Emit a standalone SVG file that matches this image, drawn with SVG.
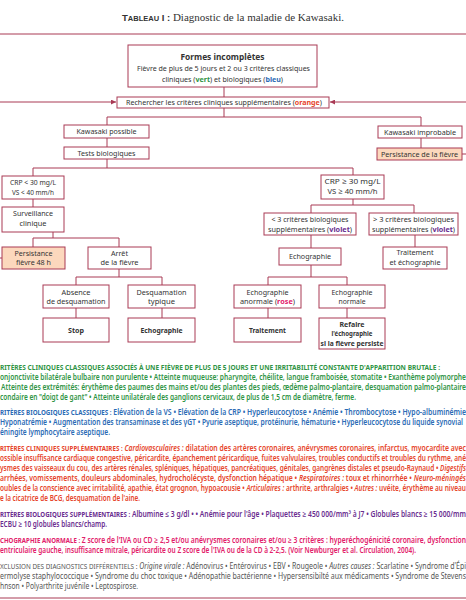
<svg xmlns="http://www.w3.org/2000/svg" width="466" height="600" viewBox="0 0 466 600">
<style>
.bx{fill:#fff;stroke:#a93a55;stroke-width:1}
.pk{fill:#fcd8bd}
.c{fill:none;stroke:#a93a55;stroke-width:1}
.t{font-family:"Noto Sans","Open Sans","Liberation Sans",Arial,sans-serif;font-size:7.8px;fill:#333;text-anchor:middle}
.b{font-weight:bold}
.l{font-family:"Noto Sans","Open Sans","Liberation Sans",Arial,sans-serif;font-size:8.4px;font-weight:600}
.h{font-weight:bold;font-size:7.6px}
.i{font-style:italic}
.g{fill:#2f9445}.bl{fill:#2b6bb5}.r{fill:#e6452b}.v{fill:#6a2d8f}.p{fill:#e2206a}.gr{fill:#555;font-weight:normal}
</style>
<defs>
<marker id="ah" viewBox="0 0 6 6" refX="6" refY="3" markerWidth="5" markerHeight="5" orient="auto" markerUnits="userSpaceOnUse"><path d="M0,0 L6,3 L0,6 z" fill="#a93a55"/></marker>
</defs>

<text x="233" y="21" text-anchor="middle" style="font-family:'Liberation Serif',serif;font-size:11px;fill:#333"><tspan style="font-family:'Liberation Sans',sans-serif;font-weight:bold;font-size:9.5px">T</tspan><tspan style="font-family:'Liberation Sans',sans-serif;font-weight:bold;font-size:7.5px">ABLEAU</tspan><tspan style="font-family:'Liberation Sans',sans-serif;font-weight:bold;font-size:9.5px"> I :</tspan> Diagnostic de la maladie de Kawasaki.</text>
<line x1="0" y1="34" x2="466" y2="34" class="c"/>
<line x1="0" y1="598" x2="466" y2="598" class="c"/>

<g id="connectors">
<path class="c" d="M224,87 V97"/>
<path class="c" d="M224,108 V117"/>
<path class="c" d="M107,125 V117 H421 V126"/>
<path class="c" d="M107,138 V147"/>
<path class="c" d="M421,138 V148"/>
<path class="c" d="M107,159 V168"/>
<path class="c" d="M33,176 V168 H353 V175"/>
<path class="c" d="M33,199 V207"/>
<path class="c" d="M53,232 V238"/>
<path class="c" d="M33,247 V238 H119 V247"/>
<path class="c" d="M119,269 V277"/>
<path class="c" d="M76,285 V277 H162 V285"/>
<path class="c" d="M76,308 V318"/>
<path class="c" d="M162,308 V318"/>
<path class="c" d="M353,199 V205"/>
<path class="c" d="M311,213 V205 H414 V213"/>
<path class="c" d="M311,235 V248"/>
<path class="c" d="M415,235 V247"/>
<path class="c" d="M311,265 V277"/>
<path class="c" d="M268,285 V277 H347 V285"/>
<path class="c" d="M268,308 V318"/>
<path class="c" d="M347,308 V318"/>
<path class="c" d="M2,258 H-4 V102 H116" marker-end="url(#ah)"/>
<path class="c" d="M462,154 H470 V102 H330" marker-end="url(#ah)"/>
</g>

<g id="n-formes">
<rect class="bx" x="128" y="45" width="189" height="42"/>
<text class="t b" x="222.5" y="60" style="font-size:8.6px" textLength="84" lengthAdjust="spacingAndGlyphs">Formes incomplètes</text>
<text class="t" x="223.5" y="71" textLength="173" lengthAdjust="spacingAndGlyphs">Fièvre de plus de 5 jours et 2 ou 3 critères classiques</text>
<text class="t" x="222.5" y="82" textLength="121" lengthAdjust="spacingAndGlyphs">cliniques (<tspan class="b g">vert</tspan>) et biologiques (<tspan class="b bl">bleu</tspan>)</text>
</g>
<g id="n-rechercher">
<rect class="bx" x="117" y="97" width="212" height="11"/>
<text class="t" x="224" y="105.3" textLength="196" lengthAdjust="spacingAndGlyphs">Rechercher les critères cliniques supplémentaires (<tspan class="b r">orange</tspan>)</text>
</g>
<g id="n-kpossible">
<rect class="bx" x="64" y="125" width="85" height="13"/>
<text class="t" x="106.5" y="134.3" textLength="60" lengthAdjust="spacingAndGlyphs">Kawasaki possible</text>
</g>
<g id="n-tests">
<rect class="bx" x="64" y="147" width="85" height="12"/>
<text class="t" x="106.5" y="155.8" textLength="58" lengthAdjust="spacingAndGlyphs">Tests biologiques</text>
</g>
<g id="n-kimprobable">
<rect class="bx" x="378" y="126" width="84" height="12"/>
<text class="t" x="420" y="134.8" textLength="72" lengthAdjust="spacingAndGlyphs">Kawasaki improbable</text>
</g>
<g id="n-persist">
<rect class="bx pk" x="377" y="148" width="85" height="12"/>
<text class="t" x="419.5" y="156.8" textLength="77" lengthAdjust="spacingAndGlyphs">Persistance de la fièvre</text>
</g>
<g id="n-crplow">
<rect class="bx" x="2" y="176" width="62" height="23"/>
<text class="t" x="33" y="184.9" textLength="46" lengthAdjust="spacingAndGlyphs">CRP &lt; 30 mg/L</text>
<text class="t" x="33" y="194.6" textLength="42" lengthAdjust="spacingAndGlyphs">VS &lt; 40 mm/h</text>
</g>
<g id="n-crphigh">
<rect class="bx" x="321" y="175" width="63" height="24"/>
<text class="t" x="352.5" y="183.9" textLength="56" lengthAdjust="spacingAndGlyphs">CRP ≥ 30 mg/L</text>
<text class="t" x="352.5" y="194.4" textLength="50" lengthAdjust="spacingAndGlyphs">VS ≥ 40 mm/h</text>
</g>
<g id="n-surv">
<rect class="bx" x="2" y="207" width="62" height="25"/>
<text class="t" x="33" y="216.4" textLength="40" lengthAdjust="spacingAndGlyphs">Surveillance</text>
<text class="t" x="33" y="225.9" textLength="27" lengthAdjust="spacingAndGlyphs">clinique</text>
</g>
<g id="n-lt3">
<rect class="bx" x="264" y="213" width="92" height="22"/>
<text class="t" x="310" y="222.1" textLength="77" lengthAdjust="spacingAndGlyphs">&lt; 3 critères biologiques</text>
<text class="t" x="310" y="231.9" textLength="84" lengthAdjust="spacingAndGlyphs">supplémentaires (<tspan class="b v">violet</tspan>)</text>
</g>
<g id="n-gt3">
<rect class="bx" x="369" y="213" width="89" height="22"/>
<text class="t" x="413.5" y="222.1" textLength="81" lengthAdjust="spacingAndGlyphs">&gt; 3 critères biologiques</text>
<text class="t" x="413.5" y="231.9" textLength="83" lengthAdjust="spacingAndGlyphs">supplémentaires (<tspan class="b v">violet</tspan>)</text>
</g>
<g id="n-persist48">
<rect class="bx pk" x="2" y="247" width="63" height="22"/>
<text class="t" x="33.5" y="255.9" textLength="38" lengthAdjust="spacingAndGlyphs">Persistance</text>
<text class="t" x="33.5" y="264.9" textLength="35" lengthAdjust="spacingAndGlyphs">fièvre 48 h</text>
</g>
<g id="n-arret">
<rect class="bx" x="88" y="247" width="63" height="22"/>
<text class="t" x="119.5" y="255.9" textLength="17" lengthAdjust="spacingAndGlyphs">Arrêt</text>
<text class="t" x="119.5" y="264.9" textLength="38" lengthAdjust="spacingAndGlyphs">de la fièvre</text>
</g>
<g id="n-echo1">
<rect class="bx" x="279" y="248" width="62" height="17"/>
<text class="t" x="310" y="259.4" textLength="42" lengthAdjust="spacingAndGlyphs">Echographie</text>
</g>
<g id="n-trait-echo">
<rect class="bx" x="383" y="247" width="64" height="22"/>
<text class="t" x="415" y="255.1" textLength="37" lengthAdjust="spacingAndGlyphs">Traitement</text>
<text class="t" x="415" y="265.1" textLength="51" lengthAdjust="spacingAndGlyphs">et échographie</text>
</g>
<g id="n-absence">
<rect class="bx" x="43" y="285" width="66" height="23"/>
<text class="t" x="76" y="294.6" textLength="29" lengthAdjust="spacingAndGlyphs">Absence</text>
<text class="t" x="76" y="303.6" textLength="59" lengthAdjust="spacingAndGlyphs">de desquamation</text>
</g>
<g id="n-desq">
<rect class="bx" x="128" y="285" width="67" height="23"/>
<text class="t" x="161.5" y="294.6" textLength="50" lengthAdjust="spacingAndGlyphs">Desquamation</text>
<text class="t" x="161.5" y="303.6" textLength="27" lengthAdjust="spacingAndGlyphs">typique</text>
</g>
<g id="n-echoanorm">
<rect class="bx" x="234" y="285" width="67" height="23"/>
<text class="t" x="267.5" y="294.6" textLength="42" lengthAdjust="spacingAndGlyphs">Echographie</text>
<text class="t" x="267.5" y="303.6" textLength="55" lengthAdjust="spacingAndGlyphs">anormale (<tspan class="b p">rose</tspan>)</text>
</g>
<g id="n-echonorm">
<rect class="bx" x="319" y="285" width="66" height="23"/>
<text class="t" x="352" y="294.6" textLength="41" lengthAdjust="spacingAndGlyphs">Echographie</text>
<text class="t" x="352" y="303.6" textLength="27" lengthAdjust="spacingAndGlyphs">normale</text>
</g>
<g id="n-stop">
<rect class="bx" x="43" y="318" width="66" height="24"/>
<text class="t b" x="76" y="332.8" textLength="16" lengthAdjust="spacingAndGlyphs">Stop</text>
</g>
<g id="n-echo2">
<rect class="bx" x="128" y="318" width="67" height="24"/>
<text class="t b" x="161.5" y="332.8" textLength="42" lengthAdjust="spacingAndGlyphs">Echographie</text>
</g>
<g id="n-traitement">
<rect class="bx" x="234" y="318" width="67" height="24"/>
<text class="t b" x="267.5" y="332.8" textLength="37" lengthAdjust="spacingAndGlyphs">Traitement</text>
</g>
<g id="n-refaire">
<rect class="bx" x="319" y="318" width="66" height="31"/>
<text class="t b" x="352" y="326.8" textLength="25" lengthAdjust="spacingAndGlyphs">Refaire</text>
<text class="t b" x="352" y="336.1" textLength="41" lengthAdjust="spacingAndGlyphs">l'échographie</text>
<text class="t b" x="352" y="345.6" textLength="63" lengthAdjust="spacingAndGlyphs">si la fièvre persiste</text>
</g>

<g id="legend">
<text class="l g" x="0" y="369.9" textLength="440" lengthAdjust="spacingAndGlyphs"><tspan class="h">RITÈRES CLINIQUES CLASSIQUES ASSOCIÉS À UNE FIÈVRE DE PLUS DE 5 JOURS ET UNE IRRITABILITÉ CONSTANTE D'APPARITION BRUTALE :</tspan></text>
<text class="l g" x="0" y="379.9" textLength="466" lengthAdjust="spacingAndGlyphs">onjonctivite bilatérale bulbaire non purulente • Atteinte muqueuse: pharyngite, chéilite, langue framboisée, stomatite • Exanthème polymorphe</text>
<text class="l g" x="1" y="389.9" textLength="465" lengthAdjust="spacingAndGlyphs">Atteinte des extrémités: érythème des paumes des mains et/ou des plantes des pieds, œdème palmo-plantaire, desquamation palmo-plantaire</text>
<text class="l g" x="0" y="399.9" textLength="356" lengthAdjust="spacingAndGlyphs">condaire en "doigt de gant" • Atteinte unilatérale des ganglions cervicaux, de plus de 1,5 cm de diamètre, ferme.</text>

<text class="l bl" x="0" y="415.4" textLength="466" lengthAdjust="spacingAndGlyphs"><tspan class="h">RITÈRES BIOLOGIQUES CLASSIQUES :</tspan> Elévation de la VS • Elévation de la CRP • Hyperleucocytose • Anémie • Thrombocytose • Hypo-albuminémie</text>
<text class="l bl" x="0" y="425.4" textLength="463" lengthAdjust="spacingAndGlyphs">Hyponatrémie • Augmentation des transaminase et des γGT • Pyurie aseptique, protéinurie, hématurie • Hyperleucocytose du liquide synovial</text>
<text class="l bl" x="0" y="434.9" textLength="110" lengthAdjust="spacingAndGlyphs">éningite lymphocytaire aseptique.</text>

<text class="l r" x="0" y="450.9" textLength="466" lengthAdjust="spacingAndGlyphs"><tspan class="h">RITÈRES CLINIQUES SUPPLÉMENTAIRES :</tspan> <tspan class="i">Cardiovasculaires :</tspan> dilatation des artères coronaires, anévrysmes coronaires, infarctus, myocardite avec</text>
<text class="l r" x="0" y="461.1" textLength="466" lengthAdjust="spacingAndGlyphs">ossible insuffisance cardiaque congestive, péricardite, épanchement péricardique, fuites valvulaires, troubles conductifs et troubles du rythme, ané</text>
<text class="l r" x="0" y="471.1" textLength="466" lengthAdjust="spacingAndGlyphs">ysmes des vaisseaux du cou, des artères rénales, spléniques, hépatiques, pancréatiques, génitales, gangrènes distales et pseudo-Raynaud • <tspan class="i">Digestifs</tspan></text>
<text class="l r" x="0" y="480.9" textLength="466" lengthAdjust="spacingAndGlyphs">arrhées, vomissements, douleurs abdominales, hydrocholécyste, dysfonction hépatique • <tspan class="i">Respiratoires :</tspan> toux et rhinorrhée • <tspan class="i">Neuro-méningés</tspan></text>
<text class="l r" x="0" y="490.6" textLength="466" lengthAdjust="spacingAndGlyphs">oubles de la conscience avec irritabilité, apathie, état grognon, hypoacousie • <tspan class="i">Articulaires :</tspan> arthrite, arthralgies • <tspan class="i">Autres :</tspan> uvéite, érythème au niveau</text>
<text class="l r" x="0" y="500.9" textLength="140" lengthAdjust="spacingAndGlyphs">e la cicatrice de BCG, desquamation de l'aine.</text>

<text class="l v" x="0" y="516.9" textLength="466" lengthAdjust="spacingAndGlyphs"><tspan class="h">RITÈRES BIOLOGIQUES SUPPLÉMENTAIRES :</tspan> Albumine ≤ 3 g/dl • • Anémie pour l'âge • Plaquettes ≥ 450 000/mm³ à J7 • Globules blancs ≥ 15 000/mm</text>
<text class="l v" x="0" y="526.9" textLength="107" lengthAdjust="spacingAndGlyphs">ECBU ≥ 10 globules blancs/champ.</text>

<text class="l p" x="0" y="543.4" textLength="466" lengthAdjust="spacingAndGlyphs"><tspan class="h">CHOGRAPHIE ANORMALE :</tspan> Z score de l'IVA ou CD ≥ 2,5 et/ou anévrysmes coronaires et/ou ≥ 3 critères : hyperéchogénicité coronaire, dysfonction</text>
<text class="l p" x="0" y="552.9" textLength="416" lengthAdjust="spacingAndGlyphs">entriculaire gauche, insuffisance mitrale, péricardite ou Z score de l'IVA ou de la CD à 2-2,5. (Voir Newburger et al. Circulation, 2004).</text>

<text class="l gr" x="0" y="568.9" textLength="466" lengthAdjust="spacingAndGlyphs"><tspan style="font-size:7.6px">XCLUSION DES DIAGNOSTICS DIFFÉRENTIELS :</tspan> <tspan class="i">Origine virale :</tspan> Adénovirus • Entérovirus • EBV • Rougeole • <tspan class="i">Autres causes :</tspan> Scarlatine • Syndrome d'Épi</text>
<text class="l gr" x="0" y="578.9" textLength="466" lengthAdjust="spacingAndGlyphs">ermolyse staphylococcique • Syndrome du choc toxique • Adénopathie bactérienne • Hypersensibilté aux médicaments • Syndrome de Stevens</text>
<text class="l gr" x="0" y="588.9" textLength="138" lengthAdjust="spacingAndGlyphs">hnson • Polyarthrite juvénile • Leptospirose.</text>
</g>
</svg>
